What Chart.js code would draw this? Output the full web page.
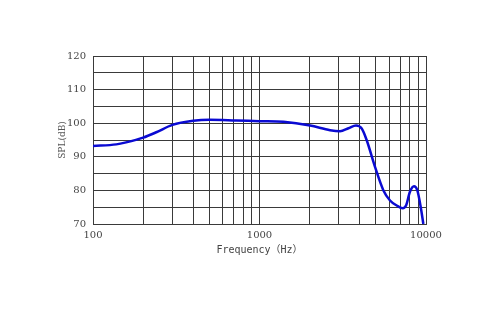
<!DOCTYPE html>
<html>
<head>
<meta charset="utf-8">
<script src="https://cdn.jsdelivr.net/npm/chart.js@4/dist/chart.umd.min.js"></script>
<style>
  html, body { margin: 0; padding: 0; background: #fff; }
  #wrap { width: 500px; height: 310px; }
</style>
</head>
<body>
<div id="wrap"><canvas id="spl"></canvas></div>
<script>
// frequency response
const freqs = [100, 138, 158, 200, 240, 300, 400, 500, 724, 1000, 1393, 2013, 2655, 3045, 3423, 3800, 4110, 4400, 4940, 5550, 6080, 6670, 7240, 7600, 8000, 8470, 8870, 9300, 9640];
const spl   = [93.2, 93.7, 94.3, 95.7, 97.3, 99.5, 100.7, 101.0, 100.8, 100.6, 100.4, 99.3, 97.9, 97.6, 98.5, 99.3, 98.4, 95.0, 87.0, 80.0, 77.0, 75.5, 74.7, 75.6, 79.5, 81.2, 80.0, 75.0, 70.0];
const xGrid = [100, 200, 300, 400, 500, 600, 700, 800, 900, 1000, 2000, 3000, 4000, 5000, 6000, 7000, 8000, 9000, 10000];
const xLabels = [100, 1000, 10000];
const yLabels = [70, 80, 90, 100, 110, 120];

(function() {
    'use strict';

    const points = freqs.map(function(f, i) { return { x: f, y: spl[i] }; });
    const tickFont = { family: "'DejaVu Serif', 'Liberation Serif', serif", size: 10 };

    new Chart(document.getElementById('spl').getContext('2d'), {
        type: 'line',
        data: {
            datasets: [{
                data: points,
                borderColor: '#0a0ad2',
                borderWidth: 2.5,
                pointRadius: 0,
                fill: false,
                cubicInterpolationMode: 'monotone'
            }]
        },
        options: {
            responsive: true,
            maintainAspectRatio: false,
            animation: false,
            layout: { padding: { left: 0, right: 74, top: 56, bottom: 0 } },
            plugins: { legend: { display: false }, tooltip: { enabled: false } },
            scales: {
                x: {
                    type: 'logarithmic',
                    min: 100,
                    max: 10000,
                    afterBuildTicks: function(scale) {
                        scale.ticks = xGrid.map(function(v) { return { value: v }; });
                    },
                    afterFit: function(scale) { scale.height = 86; },
                    grid: { color: '#3a3a3a', lineWidth: 1, drawTicks: false },
                    border: { color: '#3a3a3a' },
                    ticks: {
                        autoSkip: false,
                        maxRotation: 0,
                        padding: 5,
                        color: '#444',
                        font: tickFont,
                        callback: function(v) { return xLabels.indexOf(v) >= 0 ? String(v) : ''; }
                    },
                    title: {
                        display: true,
                        text: 'Frequency（Hz）',
                        color: '#444',
                        font: { family: "'DejaVu Sans Mono', 'Noto Sans CJK SC', monospace", size: 10 },
                        padding: { top: 0, bottom: 54 }
                    }
                },
                y: {
                    min: 70,
                    max: 120,
                    afterFit: function(scale) { scale.width = 93; },
                    grid: { color: '#3a3a3a', lineWidth: 1, drawTicks: false },
                    border: { color: '#3a3a3a' },
                    ticks: {
                        stepSize: 5,
                        padding: 7,
                        color: '#444',
                        font: tickFont,
                        callback: function(v) { return yLabels.indexOf(v) >= 0 ? String(v) : ''; }
                    },
                    title: {
                        display: true,
                        text: 'SPL(dB)',
                        color: '#555',
                        font: { family: "'DejaVu Serif', 'Liberation Serif', serif", size: 9 },
                        padding: { top: 57, bottom: 0 }
                    }
                }
            }
        }
    });
})();
</script>
</body>
</html>
